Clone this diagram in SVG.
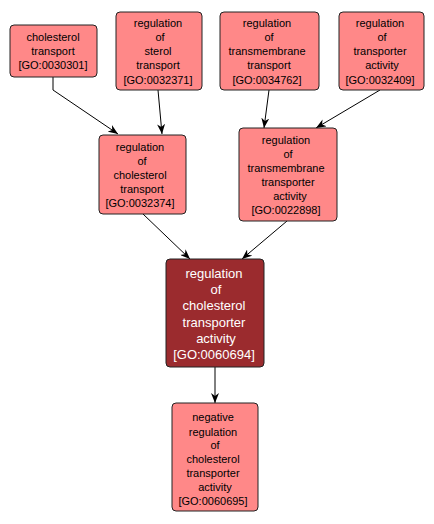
<svg xmlns="http://www.w3.org/2000/svg" width="434" height="524" viewBox="0 0 434 524">
<style>
.n rect{fill:#FF8888;stroke:#222;stroke-width:1}
.d rect{fill:#9B2B2E;stroke:#222;stroke-width:1}
text{font-family:"Liberation Sans",Arial,sans-serif;font-size:11px;text-anchor:middle;fill:#000}
.d text{fill:#fff;font-size:13px}
.e path{fill:none;stroke:#000;stroke-width:1}
</style>
<defs>
<marker id="a" viewBox="0 0 10 8" refX="10" refY="4" markerWidth="10" markerHeight="8" markerUnits="userSpaceOnUse" orient="auto">
<path d="M0,0 L10,4 L0,8 L3,4 Z" fill="#000"/>
</marker>
</defs>
<rect width="434" height="524" fill="#fff"/>
<g class="e">
<path d="M53,77 L53,90 L118,134" marker-end="url(#a)"/>
<path d="M158,90 L162,134" marker-end="url(#a)"/>
<path d="M269,90 L264,128" marker-end="url(#a)"/>
<path d="M380,90 L316,128" marker-end="url(#a)"/>
<path d="M143,214 L190,259" marker-end="url(#a)"/>
<path d="M287,221 L242,259" marker-end="url(#a)"/>
<path d="M215,367 L215,403" marker-end="url(#a)"/>
</g>
<g id="GO0030301" class="n"><rect x="10" y="25" width="87" height="52" rx="4"/>
<text x="53" y="41">cholesterol</text><text x="53" y="55">transport</text><text x="53" y="69">[GO:0030301]</text></g>
<g id="GO0032371" class="n"><rect x="116" y="12" width="86" height="78" rx="4"/>
<text x="158" y="27">regulation</text><text x="160" y="41">of</text><text x="158" y="55">sterol</text><text x="158" y="69">transport</text><text x="158" y="84">[GO:0032371]</text></g>
<g id="GO0034762" class="n"><rect x="220" y="12" width="99" height="78" rx="4"/>
<text x="267" y="27">regulation</text><text x="269" y="41">of</text><text x="267" y="55">transmembrane</text><text x="269" y="69">transport</text><text x="267" y="84">[GO:0034762]</text></g>
<g id="GO0032409" class="n"><rect x="339" y="12" width="85" height="78" rx="4"/>
<text x="380" y="27">regulation</text><text x="382" y="41">of</text><text x="380" y="55">transporter</text><text x="382" y="69">activity</text><text x="380" y="84">[GO:0032409]</text></g>
<g id="GO0032374" class="n"><rect x="99" y="135" width="87" height="79" rx="4"/>
<text x="140" y="151">regulation</text><text x="142" y="165">of</text><text x="140" y="179">cholesterol</text><text x="142" y="193">transport</text><text x="140" y="207">[GO:0032374]</text></g>
<g id="GO0022898" class="n"><rect x="239" y="128" width="98" height="93" rx="4"/>
<text x="286" y="144">regulation</text><text x="288" y="158">of</text><text x="286" y="172">transmembrane</text><text x="288" y="186">transporter</text><text x="290" y="200">activity</text><text x="286" y="214">[GO:0022898]</text></g>
<g id="GO0060694" class="d"><rect x="166" y="259" width="98" height="108" rx="4"/>
<text x="214" y="278">regulation</text><text x="216" y="294">of</text><text x="214" y="310">cholesterol</text><text x="214" y="327">transporter</text><text x="216" y="343">activity</text><text x="214" y="359">[GO:0060694]</text></g>
<g id="GO0060695" class="n"><rect x="172" y="403" width="86" height="108" rx="4"/>
<text x="213" y="421">negative</text><text x="213" y="436">regulation</text><text x="215" y="449">of</text><text x="213" y="463">cholesterol</text><text x="213" y="477">transporter</text><text x="215" y="491">activity</text><text x="213" y="505">[GO:0060695]</text></g>
</svg>
